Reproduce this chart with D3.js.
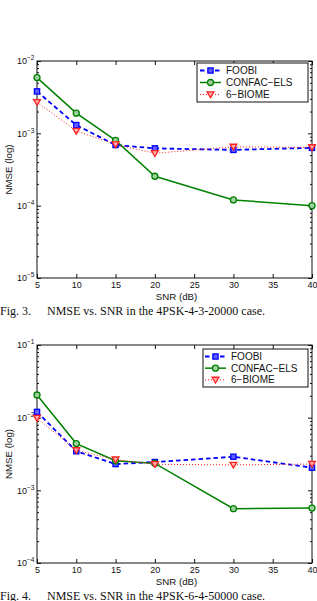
<!DOCTYPE html>
<html>
<head>
<meta charset="utf-8">
<script src="https://cdn.jsdelivr.net/npm/d3@7"></script>
<style>
  body { margin: 0; background: #fff; }
  svg { display: block; }
  .tick-lab { font-family: "Liberation Sans", Arial, sans-serif; font-size: 9px; fill: #111; }
  .ax-title { font-family: "Liberation Sans", Arial, sans-serif; font-size: 9.7px; fill: #111; }
  .leg-text { font-family: "Liberation Sans", Arial, sans-serif; font-size: 10px; fill: #111; }
  .caption { font-family: "Liberation Serif", "Times New Roman", serif; font-size: 12px; fill: #111; }
</style>
</head>
<body>
<div class="g-chart"></div>
<script>
//Local data
var snr = [5, 10, 15, 20, 30, 40];
var xTicks = [5, 10, 15, 20, 25, 30, 35, 40];
var seriesNames = ["FOOBI", "CONFAC\u2212ELS", "6\u2212BIOME"];

//Fig. 3 values
var fig3Foobi  = [3.8e-3, 1.3e-3, 6.9e-4, 6.2e-4, 5.9e-4, 6.3e-4];
var fig3Confac = [5.9e-3, 1.9e-3, 8.0e-4, 2.55e-4, 1.2e-4, 1.0e-4];
var fig3Biome  = [2.7e-3, 1.08e-3, 7.0e-4, 5.3e-4, 6.5e-4, 6.4e-4];
var fig3Exps   = [-5, -4, -3, -2];

//Fig. 4 values
var fig4Foobi  = [1.2e-2, 3.45e-3, 2.3e-3, 2.45e-3, 2.9e-3, 2.05e-3];
var fig4Confac = [2.05e-2, 4.4e-3, 2.55e-3, 2.35e-3, 5.6e-4, 5.7e-4];
var fig4Biome  = [9.9e-3, 3.55e-3, 2.65e-3, 2.28e-3, 2.24e-3, 2.3e-3];
var fig4Exps   = [-4, -3, -2, -1];

//Caption texts (label, body)
var captionLabels = ["Fig. 3.", "Fig. 4."];
var captionBodies = ["NMSE vs. SNR in the 4PSK-4-3-20000 case.",
                     "NMSE vs. SNR in the 4PSK-6-4-50000 case."];

//Styles per series
var styles = [
  {color: "#0000ff", dash: "4.5,3", width: 1.8, marker: "square"},
  {color: "#008000", dash: null, width: 1.5, marker: "circle"},
  {color: "#ff2020", dash: "1,2", width: 1, marker: "triangle"}
];

var svg = d3.select(".g-chart").append("svg")
  .attr("width", 317)
  .attr("height", 601);

svg.append("rect").attr("width", 317).attr("height", 601).attr("fill", "#fff");

drawChart({top: 61, bottom: 278, left: 37, right: 312,
  exps: fig3Exps, series: [fig3Foobi, fig3Confac, fig3Biome],
  legend: {x: 197, y: 63, w: 111, h: 39, sx: 200, tx: 226},
  capIdx: 0, capY: 315});

drawChart({top: 345, bottom: 563, left: 37, right: 312,
  exps: fig4Exps, series: [fig4Foobi, fig4Confac, fig4Biome],
  legend: {x: 203, y: 349, w: 105, h: 38, sx: 205, tx: 231},
  capIdx: 1, capY: 599.5});

function drawMarker(g, type, color, cx, cy) {
  if (type === "square") {
    g.append("rect").attr("x", cx - 2.6).attr("y", cy - 2.6)
      .attr("width", 5.2).attr("height", 5.2)
      .attr("fill", "#6060ff").attr("stroke", color).attr("stroke-width", 1.3);
  } else if (type === "circle") {
    g.append("circle").attr("cx", cx).attr("cy", cy).attr("r", 3)
      .attr("fill", "#a0d0a0").attr("stroke", color).attr("stroke-width", 1.3);
  } else {
    g.append("path")
      .attr("d", "M" + (cx - 3.4) + "," + (cy - 2.6) + "L" + (cx + 3.4) + "," + (cy - 2.6) + "L" + cx + "," + (cy + 3.2) + "Z")
      .attr("fill", "#ffb0b0").attr("stroke", color).attr("stroke-width", 1.3);
  }
}

function drawChart(cfg) {
  var x = d3.scaleLinear().domain([5, 40]).range([cfg.left, cfg.right]);
  var y = d3.scaleLog()
    .domain([Math.pow(10, cfg.exps[0]), Math.pow(10, cfg.exps[cfg.exps.length - 1])])
    .range([cfg.bottom, cfg.top]);

  var majors = cfg.exps.map(function(e) { return Math.pow(10, e); });
  var minors = [];
  for (var i = 0; i < cfg.exps.length - 1; i++) {
    for (var k = 2; k <= 9; k++) minors.push(k * Math.pow(10, cfg.exps[i]));
  }

  var g = svg.append("g");

  //Minor y ticks (inside, both sides)
  g.append("g").attr("transform", "translate(" + cfg.left + ",0)")
    .call(d3.axisLeft(y).tickValues(minors).tickSize(-2).tickFormat(""))
    .call(clean);
  g.append("g").attr("transform", "translate(" + cfg.right + ",0)")
    .call(d3.axisRight(y).tickValues(minors).tickSize(-2).tickFormat(""))
    .call(clean);

  //Major y ticks with 10^n labels
  var yAxisGroup = g.append("g").attr("transform", "translate(" + cfg.left + ",0)")
    .call(d3.axisLeft(y).tickValues(majors).tickSize(-4).tickFormat(function() { return "10"; }))
    .call(clean);
  yAxisGroup.selectAll(".tick text")
    .attr("class", "tick-lab")
    .attr("text-anchor", "start")
    .attr("x", -20).attr("dy", "0.3em")
    .append("tspan")
    .attr("dy", "-0.6em")
    .style("font-size", "6.5px")
    .text(function(d) { return "\u2212" + Math.abs(Math.round(Math.log10(d))); });
  g.append("g").attr("transform", "translate(" + cfg.right + ",0)")
    .call(d3.axisRight(y).tickValues(majors).tickSize(-4).tickFormat(""))
    .call(clean);

  //X ticks, bottom and top
  var xAxisGroup = g.append("g").attr("transform", "translate(0," + cfg.bottom + ")")
    .call(d3.axisBottom(x).tickValues(xTicks).tickSize(-4).tickPadding(4))
    .call(clean);
  xAxisGroup.selectAll(".tick text").attr("class", "tick-lab").attr("dy", "0.72em");
  g.append("g").attr("transform", "translate(0," + cfg.top + ")")
    .call(d3.axisTop(x).tickValues(xTicks).tickSize(-4).tickFormat(""))
    .call(clean);

  //Box
  g.append("rect")
    .attr("x", cfg.left).attr("y", cfg.top)
    .attr("width", cfg.right - cfg.left).attr("height", cfg.bottom - cfg.top)
    .attr("fill", "none").attr("stroke", "#111").attr("stroke-width", 1);

  //Axis titles
  g.append("text").attr("class", "ax-title")
    .attr("x", (cfg.left + cfg.right) / 2 + 2).attr("y", cfg.bottom + 21.5)
    .attr("text-anchor", "middle").text("SNR (dB)");
  g.append("text").attr("class", "ax-title")
    .attr("transform", "translate(12," + (cfg.top + cfg.bottom) / 2 + ") rotate(-90)")
    .attr("text-anchor", "middle").text("NMSE (log)");

  //Lines
  var line = d3.line()
    .x(function(d, i) { return x(snr[i]); })
    .y(function(d) { return y(d); });

  cfg.series.forEach(function(vals, si) {
    var st = styles[si];
    g.append("path").datum(vals)
      .attr("d", line)
      .attr("fill", "none")
      .attr("stroke", st.color)
      .attr("stroke-width", st.width)
      .attr("stroke-dasharray", st.dash);
  });
  cfg.series.forEach(function(vals, si) {
    var st = styles[si];
    vals.forEach(function(v, i) {
      drawMarker(g, st.marker, st.color, x(snr[i]), y(v));
    });
  });

  //Legend
  var L = cfg.legend;
  var lg = g.append("g");
  lg.append("rect")
    .attr("x", L.x).attr("y", L.y).attr("width", L.w).attr("height", L.h)
    .attr("fill", "#fff").attr("stroke", "#111").attr("stroke-width", 1);
  var rowH = (L.h - 3) / 3;
  seriesNames.forEach(function(name, si) {
    var st = styles[si];
    var ry = L.y + 7.5 + si * rowH;
    lg.append("line")
      .attr("x1", L.sx).attr("x2", L.sx + 21)
      .attr("y1", ry).attr("y2", ry)
      .attr("stroke", st.color).attr("stroke-width", st.width)
      .attr("stroke-dasharray", st.dash);
    drawMarker(lg, st.marker, st.color, L.sx + 10.5, ry);
    lg.append("text").attr("class", "leg-text")
      .attr("x", L.tx).attr("y", ry).attr("dy", "0.35em")
      .text(name);
  });

  //Caption
  var cap = svg.append("text").attr("class", "caption").attr("y", cfg.capY);
  cap.append("tspan").attr("x", 0).text(captionLabels[cfg.capIdx]);
  cap.append("tspan").attr("x", 47).text(captionBodies[cfg.capIdx]);
}

function clean(sel) {
  sel.select(".domain").remove();
  sel.selectAll(".tick line").attr("stroke", "#111");
  sel.attr("font-family", null).attr("font-size", null);
}
</script>
</body>
</html>
